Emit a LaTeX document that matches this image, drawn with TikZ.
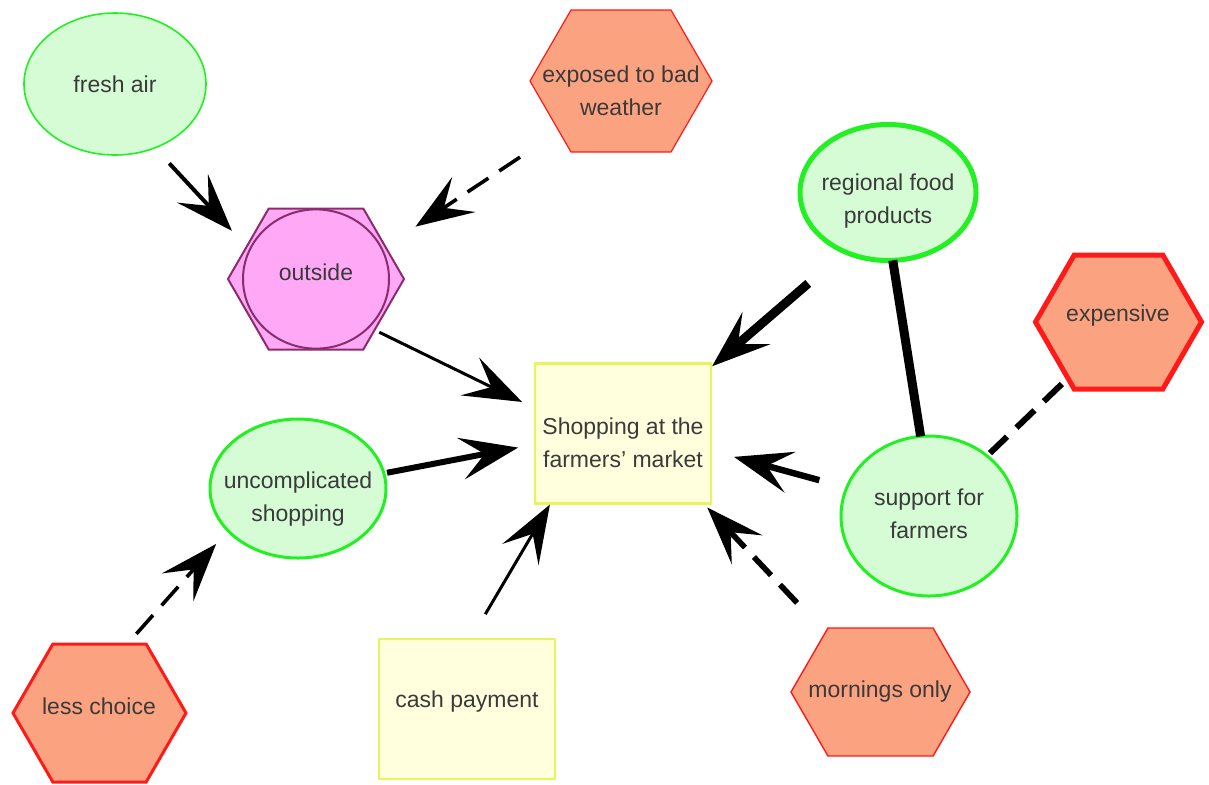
\documentclass[tikz,border=0pt]{standalone}
\usepackage{fontspec}
\setsansfont{Liberation Sans}
\usetikzlibrary{arrows.meta, shapes.geometric, shapes.symbols}
\definecolor{profill}{HTML}{D5FCD5}
\definecolor{proline}{HTML}{22F022}
\definecolor{confill}{HTML}{FBA381}
\definecolor{conline}{HTML}{FF1A1A}
\definecolor{boxfill}{HTML}{FFFFDD}
\definecolor{boxline}{HTML}{E6F55A}
\definecolor{hubfill}{HTML}{FFA8F6}
\definecolor{hubline}{HTML}{8B2C6E}
\definecolor{txt}{HTML}{3A3A3A}
\tikzset{
  base/.style  = {font=\sffamily\fontsize{11.5}{16.5}\selectfont, text=txt,
                  align=center, inner sep=0pt, outer sep=0pt},
  pro/.style   = {base, ellipse, draw=proline, fill=profill,
                  minimum width=91pt, minimum height=71pt},
  con/.style   = {base, signal, signal to=west and east, signal pointer angle=120,
                  draw=conline, fill=confill, minimum width=91pt, minimum height=71pt},
  topic/.style = {base, rectangle, draw=boxline, fill=boxfill,
                  minimum width=88pt, minimum height=70pt},
  hub/.style   = {con, draw=hubline, fill=hubfill},
  link/.style  = {-{Stealth[length=29pt, width=21pt, inset=12pt]}, black},
  bond/.style  = {black},
  weak/.style  = {dash pattern=on 12.5pt off 6.5pt},
}

\begin{document}
\begin{tikzpicture}[x=0.5pt, y=-0.5pt]
  \fill[white] (0,0) rectangle (1209,784);
  \useasboundingbox (0,0) rectangle (1209,784);

  % shapes
  \node[pro, line width=0.8pt] (fresh) at (115,84) {};
  \node[con, line width=0.6pt] (weather) at (621,81) {};
  \node[hub, line width=1pt, minimum width=88pt, minimum height=70.5pt] (outside) at (316,279) {};
  \draw[hubline, line width=1pt] (outside.center) ellipse [x radius=36.5pt, y radius=34.8pt];
  \node[pro, line width=2.5pt, minimum width=88pt, minimum height=68pt] (regional) at (888,192.5) {};
  \node[con, line width=2.5pt, minimum width=83pt, minimum height=67pt] (expensive) at (1118.5,322) {};
  \node[topic, line width=1.2pt] (market) at (623,433.5) {};
  \node[pro, line width=1.5pt, minimum width=88pt, minimum height=69.5pt] (easy) at (298,488.5) {};
  \node[pro, line width=1.5pt, minimum width=88pt, minimum height=80pt] (farmers) at (929,516) {};
  \node[con, line width=1.5pt, minimum width=86.5pt, minimum height=69pt] (choice) at (99.5,713) {};
  \node[topic, line width=1pt] (cash) at (467,709) {};
  \node[con, line width=0.7pt, minimum width=89.5pt, minimum height=64pt] (mornings) at (880.5,692) {};

  % texts
  \node[base] (freshtxt) at (115,84) {fresh air};
  \node[base] (weathertxt) at (621,91) {exposed to bad\\weather};
  \node[base] (outsidetxt) at (316,272) {outside};
  \node[base] (regionaltxt) at (888,201) {regional food\\products};
  \node[base] (expensivetxt) at (1118,316) {expensive};
  \node[base] (markettxt) at (623,443) {Shopping at the\\farmers' market};
  \node[base] (easytxt) at (298,499) {uncomplicated\\shopping};
  \node[base] (farmerstxt) at (929,514) {support for\\farmers};
  \node[base] (choicetxt) at (99,706) {less choice};
  \node[base] (cashtxt) at (467,702) {cash payment};
  \node[base] (morningstxt) at (880,692) {mornings only};

  % connectors
  \draw[link, line width=2pt, shorten <=10.6pt, shorten >=10.8pt] (fresh.-58) -- (outside.155);
  \draw[link, weak, line width=1.8pt, shorten <=23.4pt, shorten >=18.1pt] (weather.-141) -- (outside.25.2);
  \draw[link, line width=1.5pt, shorten <=2.6pt, shorten >=7.2pt] (outside.-41) -- (market.164);
  \draw[link, line width=4.5pt, shorten <=24.2pt, shorten >=0.7pt] (regional.-126.6) -- (market.37);
  \draw[bond, line width=4.5pt] (regional.-86) -- (farmers.96);
  \draw[bond, weak, line width=3pt, shorten <=4.2pt, shorten >=2pt] (expensive.-132.5) -- (farmers.46.5);
  \draw[link, line width=3.2pt, shorten <=14.2pt, shorten >=11.9pt] (farmers.161.8) -- (market.-11.7);
  \draw[link, line width=3pt, shorten <=1.6pt, shorten >=8.6pt] (easy.10.4) -- (market.187.4);
  \draw[link, weak, line width=1.8pt, shorten <=6.8pt, shorten >=8.9pt] (choice.68.6) -- (easy.211.8);
  \draw[link, line width=1.5pt, shorten <=14.4pt, shorten >=0.6pt] (cash.87.1) -- (market.-136.5);
  \draw[link, weak, line width=2.8pt, shorten <=20.5pt, shorten >=2.7pt] (mornings.133.2) -- (market.-41);
\end{tikzpicture}
\end{document}
